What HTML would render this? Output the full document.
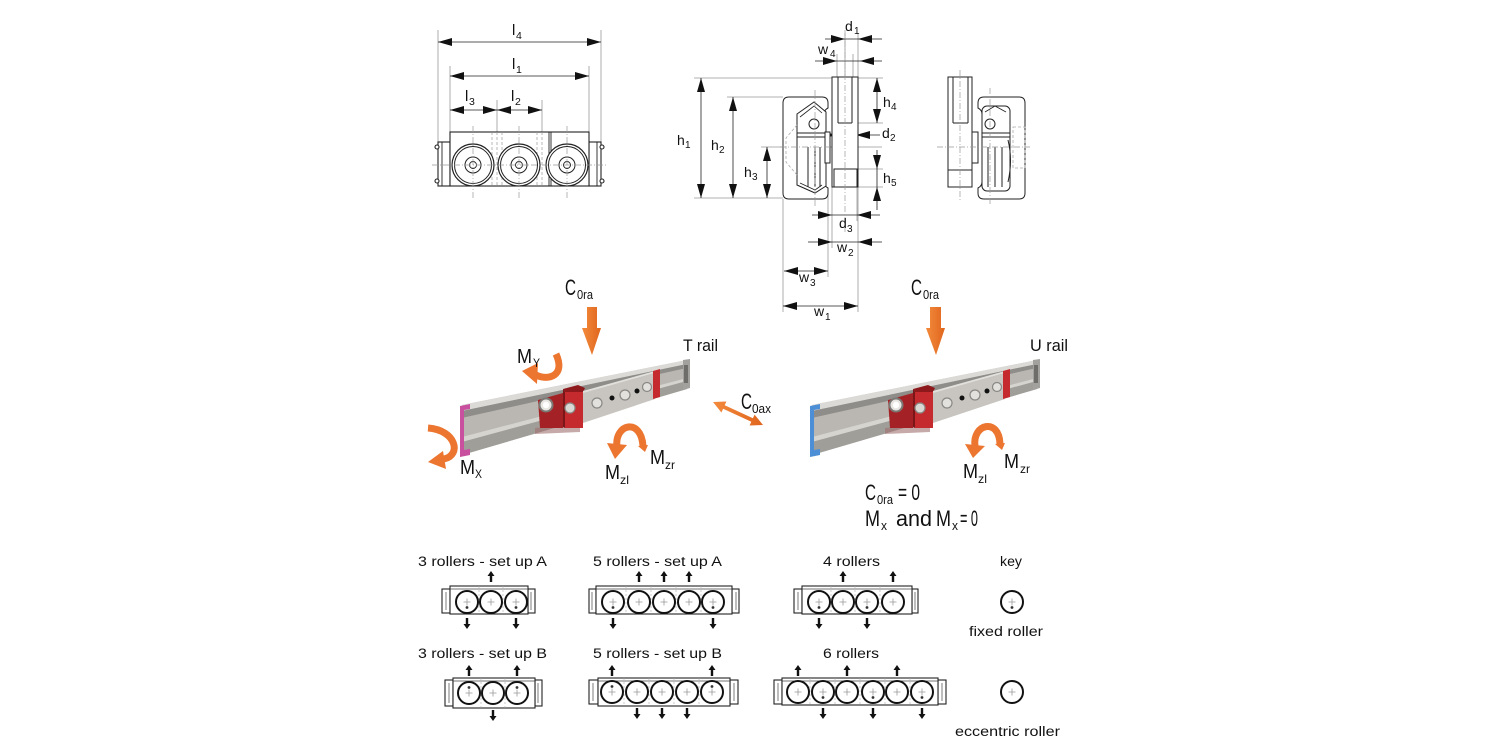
<!DOCTYPE html>
<html><head><meta charset="utf-8"><style>
html,body{margin:0;padding:0;background:#fff;}
svg{display:block;}
.dim{font-family:"Liberation Sans",sans-serif;fill:#111;}
.c{font-family:"Liberation Sans Narrow","Liberation Sans",sans-serif;fill:#111;}
.t{font-family:"Liberation Sans",sans-serif;fill:#111;font-size:13.5px;}
</style></head><body>
<svg width="1500" height="750" viewBox="0 0 1500 750" xmlns="http://www.w3.org/2000/svg">
<defs>
 <linearGradient id="org" x1="0" y1="0" x2="1" y2="0"><stop offset="0" stop-color="#f38a3c"/><stop offset="1" stop-color="#e0661e"/></linearGradient>
 <g id="rE"><circle r="11" fill="#fff" stroke="#111" stroke-width="2"/><path d="M-3.5 0H3.5M0 -3.5V3.5" stroke="#999" stroke-width="0.8"/></g>
 <g id="rF"><use href="#rE"/><circle cy="5.5" r="1.4" fill="#333"/></g>
 <g id="rU"><use href="#rE"/><circle cy="-5.5" r="1.4" fill="#333"/></g>
 <polygon id="aU" points="0,0 -3.5,5 -1.2,5 -1.2,11 1.2,11 1.2,5 3.5,5" fill="#111"/>
 <polygon id="aD" points="0,0 -3.5,-5 -1.2,-5 -1.2,-11 1.2,-11 1.2,-5 3.5,-5" fill="#111"/>
 <g id="rail">
  <polygon points="462,405 687,360 687,389 462,455" fill="#b3b0ab"/>
  <polygon points="462,405 687,360 687,364 462,411" fill="#dcdad6"/>
  <polygon points="462,411 687,364 687,368 462,418" fill="#8f8d89"/>
  <polygon points="462,418 687,368 687,378 462,437" fill="#bab7b2"/>
  <polygon points="462,437 687,378 687,381 462,442" fill="#d6d4cf"/>
  <polygon points="462,442 687,381 687,389 462,455" fill="#a09e99"/>
  <polygon points="683,360 690,359 690,388 683,390" fill="#a3a19d"/>
  <rect x="684" y="365" width="4" height="18" fill="#6f6d69"/>
  <polygon points="535,428 580,423 580,432 535,434" fill="#a07070" opacity="0.6"/>
  <polygon points="538,400 563,393 563,428 540,428" fill="#a42226"/>
  <circle cx="546" cy="405" r="6.5" fill="#e8e6e2" stroke="#7b7975" stroke-width="2"/>
  <circle cx="546" cy="405" r="3.2" fill="#fff"/>
  <polygon points="563,389 578,385 585,388 583,392 565,392" fill="#8d191c"/>
  <rect x="565" y="392" width="18" height="36" fill="#c42a2e"/>
  <polygon points="563,389 565,392 565,428 563,427" fill="#7a1518"/>
  <circle cx="570" cy="408" r="5" fill="#dad8d4" stroke="#8a8884" stroke-width="1.2"/>
  <polygon points="583,393 655,373 655,399 583,423" fill="#c8c5c0"/>
  <polygon points="583,391 655,371 655,373 583,393" fill="#e2e0dc"/>
  <polygon points="653,371 660,369 660,397 653,399" fill="#c42a2e"/>
  <circle cx="597" cy="403" r="5" fill="#e3e1dd" stroke="#8a8884" stroke-width="1.2"/>
  <circle cx="612" cy="398" r="2.5" fill="#111"/>
  <circle cx="625" cy="395" r="5" fill="#e3e1dd" stroke="#8a8884" stroke-width="1.2"/>
  <circle cx="637" cy="391" r="2.5" fill="#111"/>
  <circle cx="647" cy="387" r="4.5" fill="#e3e1dd" stroke="#8a8884" stroke-width="1.2"/>
 </g>
</defs>

<!-- ============ TOP LEFT DRAWING ============ -->
<g stroke="#999" stroke-width="0.8" fill="none">
 <line x1="438" y1="30" x2="438" y2="142"/>
 <line x1="601" y1="30" x2="601" y2="142"/>
 <line x1="450" y1="66" x2="450" y2="132"/>
 <line x1="589" y1="66" x2="589" y2="132"/>
 <line x1="497" y1="100" x2="497" y2="132"/>
 <line x1="542" y1="100" x2="542" y2="132"/>
</g>
<g stroke="#222" stroke-width="0.8">
 <line x1="438" y1="42" x2="601" y2="42"/>
 <line x1="450" y1="76" x2="589" y2="76"/>
 <line x1="450" y1="110" x2="542" y2="110"/>
</g>
<g fill="#111">
 <polygon points="438,42 452,38 452,46"/><polygon points="601,42 587,38 587,46"/>
 <polygon points="450,76 464,72 464,80"/><polygon points="589,76 575,72 575,80"/>
 <polygon points="450,110 464,106 464,114"/><polygon points="497,110 483,106 483,114"/>
 <polygon points="497,110 511,106 511,114"/><polygon points="542,110 528,106 528,114"/>
</g>
<text class="dim" x="512" y="35" font-size="15">l</text><text class="dim" x="516" y="39" font-size="10.5">4</text>
<text class="dim" x="512" y="69" font-size="15">l</text><text class="dim" x="516" y="73" font-size="10.5">1</text>
<text class="dim" x="465" y="101" font-size="15">l</text><text class="dim" x="469" y="105" font-size="10.5">3</text>
<text class="dim" x="511" y="101" font-size="15">l</text><text class="dim" x="515" y="105" font-size="10.5">2</text>

<g fill="#fff" stroke="#222" stroke-width="1.1">
 <rect x="438" y="142" width="12" height="44"/>
 <rect x="589" y="142" width="12" height="44"/>
 <rect x="450" y="132" width="139" height="54"/>
 <circle cx="437" cy="147" r="2"/><circle cx="437" cy="181" r="2"/>
 <circle cx="602" cy="147" r="2"/><circle cx="602" cy="181" r="2"/>
</g>
<g stroke="#222" stroke-width="0.9">
 <line x1="549" y1="132" x2="549" y2="186"/><line x1="551" y1="132" x2="551" y2="186"/>
 <line x1="442" y1="142" x2="442" y2="186"/><line x1="597" y1="142" x2="597" y2="186"/>
</g>
<g stroke="#999" stroke-width="0.7" stroke-dasharray="3,2">
 <line x1="492" y1="132" x2="492" y2="186"/><line x1="497" y1="132" x2="497" y2="186"/><line x1="502" y1="132" x2="502" y2="186"/>
 <line x1="537" y1="132" x2="537" y2="186"/><line x1="542" y1="132" x2="542" y2="186"/>
</g>
<g fill="#fff" stroke="#222">
 <circle cx="473" cy="165" r="21" stroke-width="1.2"/><circle cx="473" cy="165" r="18.5" stroke-width="1"/><circle cx="473" cy="165" r="8" stroke-width="1"/><circle cx="473" cy="165" r="3.5" stroke-width="0.9"/>
 <circle cx="519" cy="165" r="21" stroke-width="1.2"/><circle cx="519" cy="165" r="18.5" stroke-width="1"/><circle cx="519" cy="165" r="8" stroke-width="1"/><circle cx="519" cy="165" r="3.5" stroke-width="0.9"/>
 <circle cx="567" cy="165" r="21" stroke-width="1.2"/><circle cx="567" cy="165" r="18.5" stroke-width="1"/><circle cx="567" cy="165" r="8" stroke-width="1"/><circle cx="567" cy="165" r="3.5" stroke-width="0.9"/>
</g>
<g stroke="#999" stroke-width="0.7" stroke-dasharray="6,2,1,2">
 <line x1="432" y1="165" x2="607" y2="165"/>
 <line x1="473" y1="126" x2="473" y2="200"/><line x1="519" y1="126" x2="519" y2="200"/><line x1="567" y1="126" x2="567" y2="200"/>
</g>

<!-- ============ CROSS SECTION ============ -->
<g stroke="#999" stroke-width="0.8" fill="none">
 <line x1="694" y1="78" x2="832" y2="78"/>
 <line x1="694" y1="198" x2="783" y2="198"/>
 <line x1="727" y1="97" x2="783" y2="97"/>
 <line x1="761" y1="147" x2="882" y2="147"/>
 <line x1="853" y1="123" x2="883" y2="123"/>
 <line x1="858" y1="78" x2="883" y2="78"/>
 <line x1="857" y1="169" x2="883" y2="169"/>
 <line x1="857" y1="187" x2="883" y2="187"/>
 <line x1="783" y1="199" x2="783" y2="312"/>
 <line x1="828" y1="190" x2="828" y2="277"/>
 <line x1="832" y1="187" x2="832" y2="248"/>
 <line x1="857" y1="187" x2="857" y2="221"/>
 <line x1="858" y1="187" x2="858" y2="312"/>
 <line x1="837" y1="54" x2="837" y2="77"/>
 <line x1="845" y1="33" x2="845" y2="77"/>
 <line x1="853" y1="54" x2="853" y2="77"/>
 <line x1="858" y1="33" x2="858" y2="77"/>
</g>
<g stroke="#222" stroke-width="0.8">
 <line x1="701" y1="78" x2="701" y2="198"/>
 <line x1="733" y1="97" x2="733" y2="198"/>
 <line x1="767" y1="147" x2="767" y2="198"/>
 <line x1="877" y1="78" x2="877" y2="123"/>
 <line x1="877" y1="150" x2="877" y2="210"/>
 <line x1="825" y1="39" x2="882" y2="39"/>
 <line x1="815" y1="61" x2="882" y2="61"/>
 <line x1="820" y1="135" x2="880" y2="135"/>
 <line x1="812" y1="215" x2="880" y2="215"/>
 <line x1="808" y1="242" x2="882" y2="242"/>
 <line x1="784" y1="271" x2="828" y2="271"/>
 <line x1="783" y1="306" x2="858" y2="306"/>
</g>
<g fill="#111">
 <polygon points="701,78 697,92 705,92"/><polygon points="701,198 697,184 705,184"/>
 <polygon points="733,97 729,111 737,111"/><polygon points="733,198 729,184 737,184"/>
 <polygon points="767,147 763,161 771,161"/><polygon points="767,198 763,184 771,184"/>
 <polygon points="877,78 873,92 881,92"/><polygon points="877,123 873,109 881,109"/>
 <polygon points="877,169 873,155 881,155"/><polygon points="877,187 873,201 881,201"/>
 <polygon points="845,39 831,35 831,43"/><polygon points="858,39 872,35 872,43"/>
 <polygon points="837,61 823,57 823,65"/><polygon points="860,61 874,57 874,65"/>
 <polygon points="836,135 822,131 822,139"/><polygon points="856,135 870,131 870,139"/>
 <polygon points="832,215 818,211 818,219"/><polygon points="857,215 871,211 871,219"/>
 <polygon points="832,242 818,238 818,246"/><polygon points="858,242 872,238 872,246"/>
 <polygon points="784,271 798,267 798,275"/><polygon points="828,271 814,267 814,275"/>
 <polygon points="783,306 797,302 797,310"/><polygon points="858,306 844,302 844,310"/>
</g>
<!-- housing -->
<g fill="#fff" stroke="#222" stroke-width="1">
 <path d="M789 97 H822 Q828 97 828 103 V108 Q824 110 824 114 V182 Q824 186 828 188 V193 Q828 199 822 199 H789 Q783 199 783 193 V103 Q783 97 789 97 Z"/>
 <polygon points="797,114 814,102 826,112 826,186 815,193 797,185"/>
 <polyline points="800,117 814,106 822,113" fill="none" stroke-width="0.8"/>
 <polyline points="800,183 815,190 822,185" fill="none" stroke-width="0.8"/>
 <circle cx="814" cy="124" r="5"/>
 <line x1="797" y1="133" x2="826" y2="133"/><line x1="797" y1="137" x2="826" y2="137"/>
 <line x1="808" y1="147" x2="808" y2="187"/><line x1="815" y1="147" x2="815" y2="187"/><line x1="820" y1="147" x2="820" y2="187"/>
 <rect x="825" y="132" width="5" height="31"/>
 <rect x="832" y="77" width="26" height="110"/>
 <line x1="838" y1="77" x2="838" y2="123"/><line x1="852" y1="77" x2="852" y2="123"/><line x1="838" y1="123" x2="852" y2="123"/>
 <rect x="834" y="169" width="23" height="18"/>
</g>
<path d="M797 125 L786 138 L786 162 L797 175" fill="none" stroke="#aaa" stroke-width="0.8" stroke-dasharray="3,2"/>
<g stroke="#999" stroke-width="0.7" stroke-dasharray="6,2,1,2">
 <line x1="845" y1="30" x2="845" y2="232"/>
 <line x1="815" y1="90" x2="815" y2="206"/>
 <line x1="780" y1="147" x2="835" y2="147"/>
</g>
<text class="dim" x="845" y="31" font-size="14">d</text><text class="dim" x="854" y="34" font-size="10">1</text>
<text class="dim" x="818" y="54" font-size="14">w</text><text class="dim" x="830" y="57" font-size="10">4</text>
<text class="dim" x="677" y="145" font-size="14">h</text><text class="dim" x="685" y="148" font-size="10">1</text>
<text class="dim" x="711" y="150" font-size="14">h</text><text class="dim" x="719" y="153" font-size="10">2</text>
<text class="dim" x="744" y="177" font-size="14">h</text><text class="dim" x="752" y="180" font-size="10">3</text>
<text class="dim" x="883" y="107" font-size="14">h</text><text class="dim" x="891" y="110" font-size="10">4</text>
<text class="dim" x="882" y="138" font-size="14">d</text><text class="dim" x="890" y="141" font-size="10">2</text>
<text class="dim" x="883" y="183" font-size="14">h</text><text class="dim" x="891" y="186" font-size="10">5</text>
<text class="dim" x="839" y="228" font-size="14">d</text><text class="dim" x="847" y="232" font-size="10">3</text>
<text class="dim" x="837" y="252" font-size="14">w</text><text class="dim" x="848" y="256" font-size="10">2</text>
<text class="dim" x="799" y="282" font-size="14">w</text><text class="dim" x="810" y="286" font-size="10">3</text>
<text class="dim" x="814" y="316" font-size="14">w</text><text class="dim" x="825" y="320" font-size="10">1</text>

<!-- ============ RIGHT SIDE VIEW ============ -->
<g fill="#fff" stroke="#222" stroke-width="1">
 <path d="M984 97 H1019 Q1025 97 1025 103 V193 Q1025 199 1019 199 H984 Q978 199 978 193 V188 Q982 186 982 182 V114 Q982 110 978 108 V103 Q978 97 984 97 Z"/>
 <rect x="982" y="106" width="28" height="85" rx="5"/>
 <polyline points="985,112 995,106 1006,112" fill="none" stroke-width="0.8"/>
 <circle cx="990" cy="124" r="5"/>
 <line x1="982" y1="133" x2="1010" y2="133"/><line x1="982" y1="137" x2="1010" y2="137"/>
 <line x1="988" y1="147" x2="988" y2="187"/><line x1="995" y1="147" x2="995" y2="187"/><line x1="1002" y1="147" x2="1002" y2="187"/>
 <path d="M1008 140 Q1013 160 1008 182" fill="none"/>
 <rect x="972" y="132" width="6" height="31"/>
 <rect x="948" y="77" width="24" height="110"/>
 <line x1="953" y1="77" x2="953" y2="123"/><line x1="968" y1="77" x2="968" y2="123"/><line x1="953" y1="123" x2="968" y2="123"/>
 <rect x="948" y="170" width="24" height="17"/>
</g>
<rect x="1013" y="127" width="12" height="41" fill="none" stroke="#aaa" stroke-width="0.8" stroke-dasharray="3,2"/>
<g stroke="#999" stroke-width="0.7" stroke-dasharray="6,2,1,2">
 <line x1="937" y1="147" x2="1030" y2="147"/>
 <line x1="960" y1="70" x2="960" y2="200"/>
 <line x1="990" y1="88" x2="990" y2="206"/>
</g>

<!-- ============ 3D RAILS ============ -->
<use href="#rail"/>
<path d="M460 406 L470 404 L470 409 L464 410 L464 450 L470 449 L470 455 L460 457 Z" fill="#c8509e"/>
<use href="#rail" transform="translate(350,0)"/>
<path d="M810 406 L820 404 L820 409 L814 410 L814 450 L820 449 L820 455 L810 457 Z" fill="#4d8fd6"/>

<!-- orange arrows -->
<g fill="url(#org)">
 <polygon points="587,307 597,307 597,328 601,328 592,355 582,328 587,328"/>
 <polygon points="930,307 941,307 941,328 945,328 936,355 926,328 930,328"/>
 <polygon points="713,402 726.4,401.5 724.7,405.2 752.9,418.2 754.6,414.6 763,425 749.6,425.5 751.3,421.8 723.1,408.8 721.4,412.5"/>
</g>
<g fill="none" stroke="#ec7530" stroke-width="7" stroke-linecap="butt">
 <path d="M556 354 C566 376, 548 381, 536 375"/>
 <path d="M428 428 C456 430, 462 455, 444 459"/>
 <path d="M617 447 C614 424, 641 417, 643 446"/>
 <path d="M975 446 C972 424, 999 417, 1000 444"/>
</g>
<g fill="#ec7530">
 <polygon points="522,371 538,363 537,384"/>
 <polygon points="428,462 443,451 446,469"/>
 <polygon points="615,459 607,443 627,445"/>
 <polygon points="973,458 965,444 985,446"/>
 <polygon points="638,446 648,445 645,452"/>
 <polygon points="995,444 1005,443 1002,450"/>
</g>

<!-- condensed labels -->
<text class="c" x="565" y="295" font-size="22" textLength="11" lengthAdjust="spacingAndGlyphs">C</text>
<text class="c" x="577" y="299" font-size="13" textLength="16" lengthAdjust="spacingAndGlyphs">0ra</text>
<text class="c" x="683" y="351" font-size="17" textLength="35" lengthAdjust="spacingAndGlyphs">T rail</text>
<text class="c" x="517" y="363" font-size="20" textLength="15" lengthAdjust="spacingAndGlyphs">M</text>
<text class="c" x="533" y="367" font-size="12" textLength="7" lengthAdjust="spacingAndGlyphs">Y</text>
<text class="c" x="741" y="409" font-size="22" textLength="11" lengthAdjust="spacingAndGlyphs">C</text>
<text class="c" x="752" y="413" font-size="13" textLength="19" lengthAdjust="spacingAndGlyphs">0ax</text>
<text class="c" x="460" y="474" font-size="20" textLength="15" lengthAdjust="spacingAndGlyphs">M</text>
<text class="c" x="475" y="478" font-size="12" textLength="7" lengthAdjust="spacingAndGlyphs">X</text>
<text class="c" x="605" y="479" font-size="20" textLength="15" lengthAdjust="spacingAndGlyphs">M</text>
<text class="c" x="620" y="484" font-size="12" textLength="9" lengthAdjust="spacingAndGlyphs">zl</text>
<text class="c" x="650" y="464" font-size="20" textLength="15" lengthAdjust="spacingAndGlyphs">M</text>
<text class="c" x="665" y="469" font-size="12" textLength="10" lengthAdjust="spacingAndGlyphs">zr</text>

<text class="c" x="911" y="295" font-size="22" textLength="11" lengthAdjust="spacingAndGlyphs">C</text>
<text class="c" x="923" y="299" font-size="13" textLength="16" lengthAdjust="spacingAndGlyphs">0ra</text>
<text class="c" x="1030" y="351" font-size="17" textLength="38" lengthAdjust="spacingAndGlyphs">U rail</text>
<text class="c" x="963" y="478" font-size="20" textLength="15" lengthAdjust="spacingAndGlyphs">M</text>
<text class="c" x="978" y="483" font-size="12" textLength="9" lengthAdjust="spacingAndGlyphs">zl</text>
<text class="c" x="1004" y="468" font-size="20" textLength="15" lengthAdjust="spacingAndGlyphs">M</text>
<text class="c" x="1020" y="473" font-size="12" textLength="10" lengthAdjust="spacingAndGlyphs">zr</text>

<text class="c" x="865" y="500" font-size="22" textLength="11" lengthAdjust="spacingAndGlyphs">C</text>
<text class="c" x="877" y="504" font-size="13" textLength="16" lengthAdjust="spacingAndGlyphs">0ra</text>
<text class="c" x="898" y="500" font-size="22" textLength="22" lengthAdjust="spacingAndGlyphs">= 0</text>
<text class="c" x="865" y="526" font-size="22" textLength="15" lengthAdjust="spacingAndGlyphs">M</text>
<text class="c" x="881" y="530" font-size="13" textLength="6" lengthAdjust="spacingAndGlyphs">x</text>
<text class="c" x="896" y="526" font-size="22" textLength="36" lengthAdjust="spacingAndGlyphs">and</text>
<text class="c" x="936" y="526" font-size="22" textLength="15" lengthAdjust="spacingAndGlyphs">M</text>
<text class="c" x="952" y="530" font-size="13" textLength="6" lengthAdjust="spacingAndGlyphs">x</text>
<text class="c" x="960" y="526" font-size="22" textLength="18" lengthAdjust="spacingAndGlyphs">= 0</text>

<!-- ============ ROLLER SETS ============ -->
<text class="t" x="418" y="566" textLength="129" lengthAdjust="spacingAndGlyphs">3 rollers - set up A</text>
<text class="t" x="593" y="566" textLength="129" lengthAdjust="spacingAndGlyphs">5 rollers - set up A</text>
<text class="t" x="823" y="566" textLength="57" lengthAdjust="spacingAndGlyphs">4 rollers</text>
<text class="t" x="1000" y="566" textLength="22" lengthAdjust="spacingAndGlyphs">key</text>
<text class="t" x="969" y="636" textLength="74" lengthAdjust="spacingAndGlyphs">fixed roller</text>
<text class="t" x="418" y="658" textLength="129" lengthAdjust="spacingAndGlyphs">3 rollers - set up B</text>
<text class="t" x="593" y="658" textLength="129" lengthAdjust="spacingAndGlyphs">5 rollers - set up B</text>
<text class="t" x="823" y="658" textLength="56" lengthAdjust="spacingAndGlyphs">6 rollers</text>
<text class="t" x="955" y="736" textLength="105" lengthAdjust="spacingAndGlyphs">eccentric roller</text>

<g fill="#fff" stroke="#222" stroke-width="1.1">
 <rect x="442" y="589" width="8" height="24"/><rect x="528" y="589" width="7" height="24"/><rect x="450" y="586" width="78" height="28"/>
 <rect x="589" y="589" width="7" height="24"/><rect x="732" y="589" width="7" height="24"/><rect x="596" y="586" width="136" height="28"/>
 <rect x="794" y="589" width="8" height="24"/><rect x="912" y="589" width="6" height="24"/><rect x="802" y="586" width="110" height="28"/>
 <rect x="445" y="680" width="8" height="26"/><rect x="535" y="680" width="7" height="26"/><rect x="453" y="678" width="82" height="30"/>
 <rect x="589" y="680" width="9" height="24"/><rect x="730" y="680" width="8" height="24"/><rect x="598" y="678" width="132" height="28"/>
 <rect x="774" y="680" width="8" height="24"/><rect x="938" y="680" width="8" height="24"/><rect x="782" y="678" width="156" height="27"/>
</g>
<g stroke="#444" stroke-width="0.7">
 <line x1="450" y1="589" x2="528" y2="589"/><line x1="596" y1="589" x2="732" y2="589"/><line x1="802" y1="589" x2="912" y2="589"/>
 <line x1="453" y1="681" x2="535" y2="681"/><line x1="598" y1="681" x2="730" y2="681"/><line x1="782" y1="681" x2="938" y2="681"/>
 <line x1="446" y1="592" x2="446" y2="610"/><line x1="531" y1="592" x2="531" y2="610"/>
 <line x1="592" y1="592" x2="592" y2="610"/><line x1="736" y1="592" x2="736" y2="610"/>
 <line x1="798" y1="592" x2="798" y2="610"/><line x1="915" y1="592" x2="915" y2="610"/>
 <line x1="449" y1="683" x2="449" y2="703"/><line x1="538" y1="683" x2="538" y2="703"/>
 <line x1="593" y1="683" x2="593" y2="701"/><line x1="734" y1="683" x2="734" y2="701"/>
 <line x1="778" y1="683" x2="778" y2="701"/><line x1="942" y1="683" x2="942" y2="701"/>
</g>
<g stroke="#aaa" stroke-width="0.6" stroke-dasharray="2,2">
 <line x1="479" y1="586" x2="479" y2="614"/><line x1="503" y1="586" x2="503" y2="614"/>
 <line x1="626" y1="586" x2="626" y2="614"/><line x1="651" y1="586" x2="651" y2="614"/><line x1="676" y1="586" x2="676" y2="614"/><line x1="701" y1="586" x2="701" y2="614"/>
 <line x1="831" y1="586" x2="831" y2="614"/><line x1="855" y1="586" x2="855" y2="614"/><line x1="880" y1="586" x2="880" y2="614"/>
 <line x1="481" y1="678" x2="481" y2="708"/><line x1="505" y1="678" x2="505" y2="708"/>
 <line x1="624" y1="678" x2="624" y2="706"/><line x1="649" y1="678" x2="649" y2="706"/><line x1="674" y1="678" x2="674" y2="706"/><line x1="699" y1="678" x2="699" y2="706"/>
 <line x1="810" y1="678" x2="810" y2="705"/><line x1="835" y1="678" x2="835" y2="705"/><line x1="860" y1="678" x2="860" y2="705"/><line x1="885" y1="678" x2="885" y2="705"/><line x1="910" y1="678" x2="910" y2="705"/>
</g>

<!-- rollers row 1 -->
<use href="#rF" x="467" y="602"/><use href="#rE" x="491" y="602"/><use href="#rF" x="516" y="602"/>
<use href="#rF" x="613" y="602"/><use href="#rE" x="639" y="602"/><use href="#rE" x="664" y="602"/><use href="#rE" x="689" y="602"/><use href="#rF" x="713" y="602"/>
<use href="#rF" x="819" y="602"/><use href="#rE" x="843" y="602"/><use href="#rF" x="867" y="602"/><use href="#rE" x="893" y="602"/>
<use href="#rF" x="1012" y="602"/>
<!-- rollers row 2 -->
<use href="#rU" x="469" y="693"/><use href="#rE" x="493" y="693"/><use href="#rU" x="517" y="693"/>
<use href="#rU" x="612" y="692"/><use href="#rE" x="637" y="692"/><use href="#rE" x="662" y="692"/><use href="#rE" x="687" y="692"/><use href="#rU" x="712" y="692"/>
<use href="#rE" x="798" y="692"/><use href="#rF" x="823" y="692"/><use href="#rE" x="847" y="692"/><use href="#rF" x="873" y="692"/><use href="#rE" x="897" y="692"/><use href="#rF" x="922" y="692"/>
<use href="#rE" x="1012" y="692"/>

<!-- arrows row 1 -->
<use href="#aU" x="491" y="571"/>
<use href="#aD" x="467" y="629"/><use href="#aD" x="516" y="629"/>
<use href="#aU" x="639" y="571"/><use href="#aU" x="664" y="571"/><use href="#aU" x="689" y="571"/>
<use href="#aD" x="613" y="629"/><use href="#aD" x="713" y="629"/>
<use href="#aU" x="843" y="571"/><use href="#aU" x="893" y="571"/>
<use href="#aD" x="819" y="629"/><use href="#aD" x="867" y="629"/>
<!-- arrows row 2 -->
<use href="#aU" x="469" y="665"/><use href="#aU" x="517" y="665"/>
<use href="#aD" x="493" y="721"/>
<use href="#aU" x="612" y="665"/><use href="#aU" x="712" y="665"/>
<use href="#aD" x="637" y="719"/><use href="#aD" x="662" y="719"/><use href="#aD" x="687" y="719"/>
<use href="#aU" x="798" y="665"/><use href="#aU" x="847" y="665"/><use href="#aU" x="897" y="665"/>
<use href="#aD" x="823" y="719"/><use href="#aD" x="873" y="719"/><use href="#aD" x="922" y="719"/>
</svg>
</body></html>
